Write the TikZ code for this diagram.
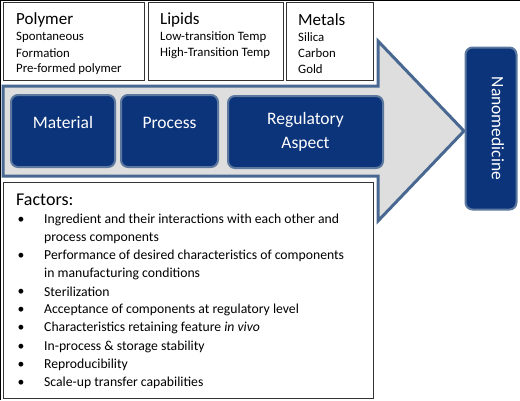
\documentclass[tikz,border=0pt]{standalone}
\usepackage{fontspec}
\setmainfont{Carlito}
\begin{document}
\begin{tikzpicture}[x=1pt,y=-1pt,
  box/.style={draw=black!80,line width=0.9pt,fill=white},
  navy/.style={draw=bordblue,line width=2pt,fill=navyblue,rounded corners=7pt,text=white,font=\fontsize{17.5}{21}\selectfont,align=center},
  head/.style={anchor=west,inner sep=0pt,font=\fontsize{17}{19}\selectfont},
  sub/.style={anchor=west,inner sep=0pt,font=\fontsize{12.8}{14}\selectfont},
  item/.style={anchor=west,inner sep=0pt,font=\fontsize{13.7}{15}\selectfont},
  bul/.style={anchor=center,inner sep=0pt,font=\fontsize{13.7}{15}\selectfont}]
\definecolor{navyblue}{RGB}{12,52,122}
\definecolor{bordblue}{RGB}{92,120,158}
\definecolor{arrblue}{RGB}{72,104,146}
\definecolor{arrfill}{RGB}{222,222,222}
\useasboundingbox (0,0) rectangle (520,400);
% outer frame
\draw[black,line width=1pt] (0.5,400) -- (0.5,0.5) -- (520,0.5);
% top boxes
\draw[box] (3,2) rectangle (144,80);
\draw[box] (148,2) rectangle (283,80);
\draw[box] (286,2) rectangle (373,80);
\node[head] (poly) at (16,20) {Polymer};
\node[sub] (p1) at (16,37) {Spontaneous};
\node[sub] (p2) at (16,53) {Formation};
\node[sub] (p3) at (16,69) {Pre-formed polymer};
\node[head] (lip) at (160,20) {Lipids};
\node[sub] (l1) at (160,37) {Low-transition Temp};
\node[sub] (l2) at (160,53) {High-Transition Temp};
\node[head] (met) at (298,20) {Metals};
\node[sub] (m1) at (298,37) {Silica};
\node[sub] (m2) at (298,53) {Carbon};
\node[sub] (m3) at (298,69) {Gold};
% arrow
\draw[draw=arrblue,fill=arrfill,line width=3pt,line join=miter]
  (3,86) -- (378,86) -- (378,41) -- (464,131) -- (378,221) -- (378,176) -- (3,176) -- cycle;
% navy boxes
\node[navy,minimum width=104pt,minimum height=72pt,text height=12pt,text depth=18pt] (mat) at (63,131) {Material};
\node[navy,minimum width=97pt,minimum height=72pt,text height=12pt,text depth=18pt] (proc) at (169.5,131) {Process};
\node[navy,minimum width=155pt,minimum height=72pt] (reg) at (305.5,132) {Regulatory\\[3pt]Aspect};
\node[navy,minimum width=162pt,minimum height=51pt,rotate=-90,text height=12pt,text depth=13.5pt] (nano) at (491,128.5) {Nanomedicine};
% factors box
\draw[box] (3,182) rectangle (373,398);
\node[head,font=\fontsize{18}{20}\selectfont] (fac) at (16,200) {Factors:};
\foreach \y/\t [count=\i] in {
  220/{Ingredient and their interactions with each other and},
  238/{process components},
  256/{Performance of desired characteristics of components},
  274/{in manufacturing conditions},
  292/{Sterilization},
  310/{Acceptance of components at regulatory level},
  328/{Characteristics retaining feature \textit{in vivo}},
  347/{In-process \& storage stability},
  365/{Reproducibility},
  383/{Scale-up transfer capabilities}}
  {\node[item] (f\i) at (44,\y) {\t};}
\foreach \y [count=\i] in {220,256,292,310,328,347,365,383}
  {\node[bul] (b\i) at (21,\y) {\textbullet};}
\end{tikzpicture}
\end{document}
